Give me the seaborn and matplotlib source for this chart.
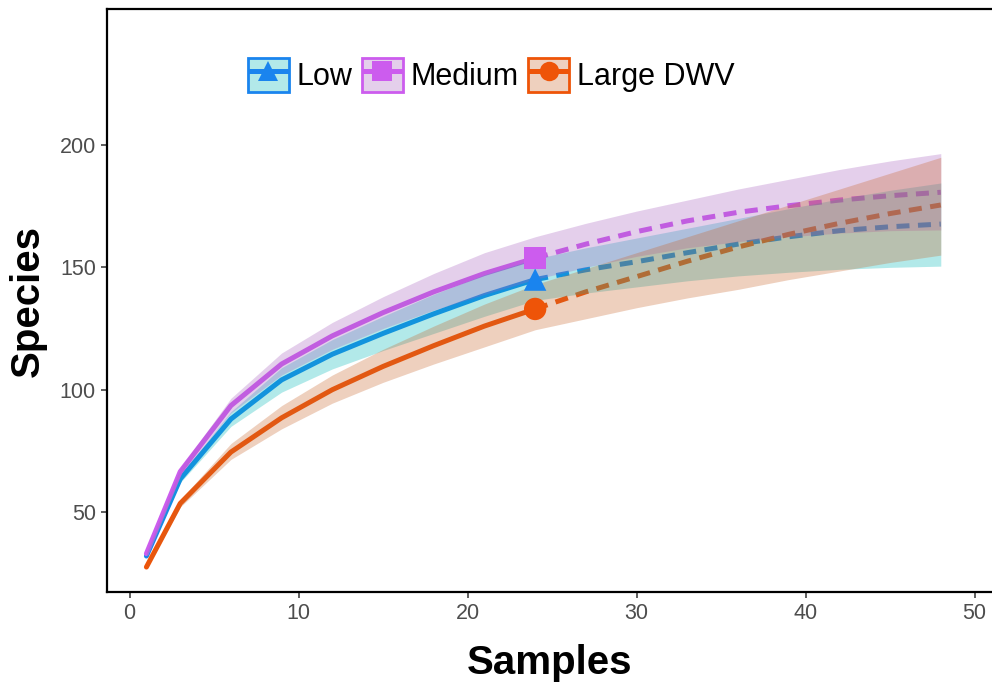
import numpy as np
import pandas as pd
import matplotlib
matplotlib.use("Agg")
import matplotlib.pyplot as plt
from matplotlib.patches import Patch
from matplotlib.lines import Line2D
from matplotlib.legend_handler import HandlerTuple
import seaborn as sns

# ---- data -------------------------------------------------------------
groups = ["Low", "Medium", "Large DWV"]

x_obs = [1, 3, 6, 9, 12, 15, 18, 21, 24]
x_ext = [24, 27, 30, 33, 36, 39, 42, 45, 48]

low_obs = [32.0, 63.5, 88.0, 104.0, 114.5, 123.0, 131.0, 138.5, 145.0]
low_obs_lo = [31.5, 62.0, 85.0, 99.0, 108.5, 116.0, 123.0, 130.0, 136.5]
low_obs_hi = [32.5, 65.0, 91.0, 109.0, 120.5, 130.0, 139.0, 147.0, 153.5]
low_ext = [145.0, 149.0, 152.3, 156.0, 159.5, 162.5, 165.0, 166.6, 167.7]
low_ext_lo = [136.5, 139.5, 142.0, 144.5, 146.5, 148.0, 149.2, 150.0, 150.5]
low_ext_hi = [153.5, 158.0, 162.0, 166.0, 170.0, 174.0, 178.0, 181.5, 184.5]

med_obs = [33.0, 66.5, 93.5, 110.5, 122.0, 131.5, 140.0, 147.5, 153.8]
med_obs_lo = [32.5, 65.0, 90.5, 106.0, 116.5, 125.0, 132.5, 139.0, 145.1]
med_obs_hi = [33.5, 68.0, 96.5, 115.0, 127.5, 138.0, 147.5, 156.0, 162.5]
med_ext = [153.8, 159.5, 164.6, 169.0, 172.5, 175.2, 177.5, 179.3, 180.7]
med_ext_lo = [145.1, 150.0, 154.5, 158.0, 160.5, 162.5, 164.0, 165.0, 165.3]
med_ext_hi = [162.5, 168.0, 173.0, 177.5, 182.0, 186.0, 190.0, 193.5, 196.5]

lrg_obs = [27.5, 53.5, 74.5, 88.5, 100.0, 109.5, 118.0, 126.0, 133.0]
lrg_obs_lo = [27.0, 52.0, 71.5, 84.0, 94.5, 103.0, 110.5, 117.5, 124.5]
lrg_obs_hi = [28.0, 55.0, 78.0, 93.5, 106.0, 116.5, 126.0, 135.0, 143.0]
lrg_ext = [133.0, 140.0, 146.2, 152.5, 158.3, 163.5, 168.0, 172.0, 175.5]
lrg_ext_lo = [124.5, 129.0, 133.5, 137.5, 141.0, 145.0, 148.5, 152.0, 155.0]
lrg_ext_hi = [143.0, 149.5, 156.0, 162.5, 169.0, 175.5, 182.0, 188.5, 195.0]

series = {
    "Low": (low_obs, low_obs_lo, low_obs_hi, low_ext, low_ext_lo, low_ext_hi),
    "Medium": (med_obs, med_obs_lo, med_obs_hi, med_ext, med_ext_lo, med_ext_hi),
    "Large DWV": (lrg_obs, lrg_obs_lo, lrg_obs_hi, lrg_ext, lrg_ext_lo, lrg_ext_hi),
}

# ---- styling ------------------------------------------------------------
line_colors = {"Low": "#1A84EE", "Medium": "#CC5CEE", "Large DWV": "#EE5408"}
fill_colors = {"Low": "#00B8B8", "Medium": "#A860C0", "Large DWV": "#C8642A"}
markers = {"Low": "^", "Medium": "s", "Large DWV": "o"}

# ---- long table for seaborn ---------------------------------------------
rows = []
for g in groups:
    obs, _, _, ext, _, _ = series[g]
    for xv, yv in zip(x_obs, obs):
        rows.append((g, "Rarefaction", xv, yv))
    for xv, yv in zip(x_ext, ext):
        rows.append((g, "Extrapolation", xv, yv))
df = pd.DataFrame(rows, columns=["group", "method", "Samples", "Species"])

ref = pd.DataFrame({
    "group": groups,
    "Samples": [x_obs[-1]] * 3,
    "Species": [series[g][0][-1] for g in groups],
})

sns.set_theme(style="white")
plt.rcParams["font.family"] = ["Liberation Sans Narrow", "Liberation Sans", "DejaVu Sans"]

fig = plt.figure(figsize=(9.92, 6.84), dpi=100)
ax = fig.add_axes([0.1079, 0.1345, 0.8921, 0.8523])

sns.lineplot(
    data=df, x="Samples", y="Species", hue="group", style="method",
    hue_order=groups, style_order=["Rarefaction", "Extrapolation"],
    palette=line_colors,
    dashes={"Rarefaction": "", "Extrapolation": (2.6, 1.7)},
    linewidth=3.6, estimator=None, sort=True, legend=False, ax=ax,
)

# confidence ribbons drawn over the curves
for g in groups:
    obs, obs_lo, obs_hi, ext, ext_lo, ext_hi = series[g]
    xs = x_obs + x_ext[1:]
    lo = obs_lo + ext_lo[1:]
    hi = obs_hi + ext_hi[1:]
    ax.fill_between(xs, lo, hi, color=fill_colors[g], alpha=0.3,
                    linewidth=0, zorder=3)

# reference-sample points on top
sns.scatterplot(
    data=ref, x="Samples", y="Species", hue="group", style="group",
    hue_order=groups, palette=line_colors, markers=markers,
    s=260, linewidth=0, legend=False, ax=ax, zorder=4,
)

ax.set_xlim(-1.33, 51.03)
ax.set_ylim(17.3, 255.6)
ax.set_xticks([0, 10, 20, 30, 40, 50])
ax.set_yticks([50, 100, 150, 200])

for side in ["left", "bottom", "top"]:
    ax.spines[side].set_color("black")
    ax.spines[side].set_linewidth(1.6)
ax.spines["right"].set_visible(False)

ax.tick_params(axis="both", which="major", length=4, width=1.1, color="#333333",
               labelsize=15.5, labelcolor="#4D4D4D", direction="out",
               bottom=True, left=True, pad=4)

ax.set_xlabel("Samples", fontsize=29, fontweight="bold", color="black",
              family=["Liberation Sans", "DejaVu Sans"], labelpad=14)
ax.set_ylabel("Species", fontsize=29, fontweight="bold", color="black",
              family=["Liberation Sans", "DejaVu Sans"], labelpad=9)

# legend: outlined box with ribbon tint, line and marker overlaid
handles = []
for g in groups:
    box = Patch(facecolor=fill_colors[g], alpha=0.3, edgecolor="none")
    edge = Patch(facecolor="none", edgecolor=line_colors[g], linewidth=2)
    ln = Line2D([], [], color=line_colors[g], linewidth=3.6,
                solid_capstyle="butt",
                marker=markers[g], markersize=14, markeredgewidth=0)
    handles.append((box, edge, ln))

leg = ax.legend(
    handles, groups, handler_map={tuple: HandlerTuple(ndivide=1, pad=0)},
    loc="center", bbox_to_anchor=(0.434, 0.887), ncol=3, frameon=False,
    handlelength=1.35, handleheight=1.35, handletextpad=0.25,
    columnspacing=0.3, borderpad=0.2,
    prop={"family": ["Liberation Sans", "DejaVu Sans"], "size": 22},
)
for t in leg.get_texts():
    t.set_color("black")

fig.savefig("out.png", dpi=100, facecolor="white")
